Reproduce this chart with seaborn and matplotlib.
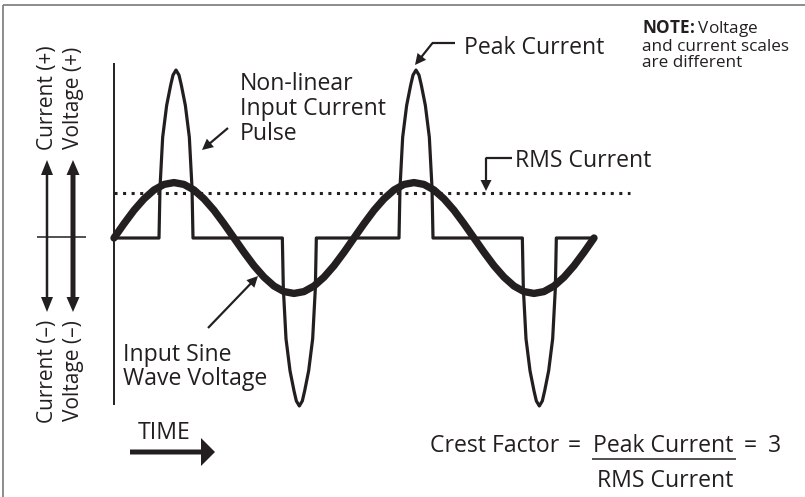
import seaborn as sns
import matplotlib.pyplot as plt
from matplotlib.lines import Line2D
from matplotlib.patches import FancyArrow
from matplotlib.transforms import Affine2D

W, H = 805, 497
INK = '#231f20'

# input voltage over one cycle, read every 15 degrees (relative units)
volt_deg = list(range(0, 360, 15))
volt_cycle = [0, 8.5, 16.5, 23.3, 28.6, 31.9, 33, 31.9, 28.6, 23.3, 16.5, 8.5,
              0, -8.5, -16.5, -23.3, -28.6, -31.9, -33, -31.9, -28.6, -23.3, -16.5, -8.5]

# current pulse outline (degrees from pulse centre, % of peak)
pulse_offset = [-25.5, -24, -20, -14, -8, -4.5, 0, 4.5, 8, 14, 20, 24, 25.5]
pulse_shape = [0, 30, 60, 79, 91, 97, 100, 97, 91, 79, 60, 30, 0]
pulse_center = [93, 278, 453, 638]
pulse_sign = [1, -1, 1, -1]

rms_level = 27
rms_end = 774
cycles_end = 720

# assemble the two cycles
time = volt_deg + [d + 360 for d in volt_deg] + [cycles_end]
volts = volt_cycle + volt_cycle + [0]

cur_t = [0]
cur_i = [0]
for c, s in zip(pulse_center, pulse_sign):
    cur_t += [c + o for o in pulse_offset]
    cur_i += [s * h for h in pulse_shape]
cur_t.append(cycles_end)
cur_i.append(0)

sns.set_theme(style='white')
plt.rcParams['font.family'] = ['Open Sans', 'DejaVu Sans']
plt.rcParams['mathtext.fontset'] = 'custom'
plt.rcParams['mathtext.bf'] = 'Open Sans:bold'
plt.rcParams['mathtext.rm'] = 'Open Sans'

fig = plt.figure(figsize=(W / 100, H / 100), dpi=100)
ax = fig.add_axes([0, 0, 1, 1])

sns.lineplot(x=[0, rms_end], y=[rms_level, rms_level], ax=ax, color=INK, lw=2.2,
             linestyle=(0, (1, 1.8)), dash_capstyle='butt', estimator=None, sort=False, zorder=1)
sns.lineplot(x=cur_t, y=cur_i, ax=ax, color=INK, lw=2.3, estimator=None, sort=False,
             zorder=2, solid_joinstyle='round')
sns.lineplot(x=time, y=volts, ax=ax, color=INK, lw=5.3, estimator=None, sort=False,
             zorder=3, solid_capstyle='round', solid_joinstyle='round')

ax.set_xlim(-171, 1036.5)
ax.set_ylim(-154.2, 141.7)
ax.set_xticks([])
ax.set_yticks([])
ax.set_xlabel('')
ax.set_ylabel('')
for side in ['top', 'right', 'bottom']:
    ax.spines[side].set_visible(False)
ax.spines['left'].set_position(('data', 0))
ax.spines['left'].set_bounds(-98.8, 103.6)
ax.spines['left'].set_color(INK)
ax.spines['left'].set_linewidth(1.4)

# pixel coordinates, origin top-left
pix = Affine2D().scale(1 / W, -1 / H).translate(0, 1) + fig.transFigure


def seg(xs, ys, lw=1.4, color=INK):
    fig.add_artist(Line2D(xs, ys, transform=pix, color=color, lw=lw,
                          solid_capstyle='butt'))


def arrow(x0, y0, x1, y1, width=2.2, head_w=11, head_l=11):
    fig.add_artist(FancyArrow(x0, y0, x1 - x0, y1 - y0, width=width, head_width=head_w,
                              head_length=head_l, length_includes_head=True,
                              transform=pix, color=INK, lw=0))


def label(x, y, s, size=16.6, **kw):
    return fig.text(x, y, s, transform=pix, fontsize=size, color=INK, va='baseline', **kw)


# outer frame
seg([3, W], [5, 5], lw=1.1, color='#6d6e71')
seg([3, 3], [5, H], lw=1.1, color='#6d6e71')

# polarity arrows on the left
arrow(47, 237, 47, 160, width=2.5, head_w=12, head_l=15)
arrow(47, 237, 47, 312, width=2.5, head_w=12, head_l=15)
arrow(73, 237, 73, 160, width=5, head_w=13, head_l=15)
arrow(73, 237, 73, 312, width=5, head_w=13, head_l=15)
seg([37, 86], [237, 237], lw=1.1)
for x, s in [(47, 'Current (+)'), (73.5, 'Voltage (+)')]:
    fig.text(x, 98, s, transform=pix, fontsize=15, color=INK, rotation=90,
             ha='center', va='center')
for x, s in [(47, 'Current (\u2013)'), (73.5, 'Voltage (\u2013)')]:
    fig.text(x, 371, s, transform=pix, fontsize=15, color=INK, rotation=90,
             ha='center', va='center')

# callouts
for i, s in enumerate(['Non-linear', 'Input Current', 'Pulse']):
    label(240, 90 + 25 * i, s)
arrow(228, 128, 202, 150)

label(464, 54, 'Peak Current')
seg([455, 432], [43, 43], lw=1.6)
arrow(432.5, 43, 415, 65)

label(515, 167, 'RMS Current')
seg([512, 486], [158, 158], lw=1.6)
arrow(486, 157.5, 486, 191)

label(123, 361, 'Input Sine')
label(123, 385, 'Wave Voltage')
arrow(208, 328, 258, 276)

# multi-line note: baseline anchor is its last line
label(642, 67, r'$\mathbf{NOTE\!:}$Voltage' + '\nand current scales\nare different',
      size=12.3, linespacing=1.0)

# time arrow
label(138, 439, 'TIME')
arrow(130, 452, 215, 452, width=5, head_w=28, head_l=14)

# crest factor formula
label(430, 452, 'Crest Factor')
label(574, 452, '=', ha='center')
label(593, 452, 'Peak Current')
label(750, 452, '=', ha='center')
label(768, 452, '3')
seg([592, 736], [459, 459], lw=1.1)
label(597, 487, 'RMS Current')

fig.savefig('out.png', dpi=100, facecolor='white')
